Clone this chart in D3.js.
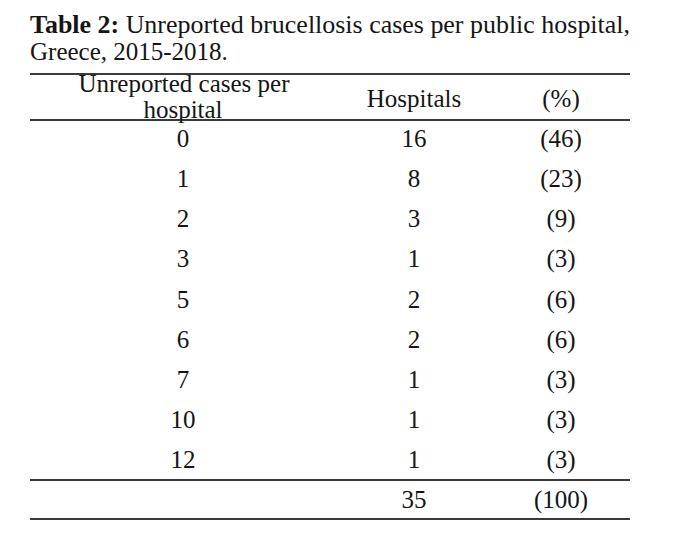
<!DOCTYPE html>
<html>
<head>
<meta charset="utf-8">
<script src="https://cdnjs.cloudflare.com/ajax/libs/d3/7.8.5/d3.min.js"></script>
<style>
  html, body { margin: 0; padding: 0; background: #fff; }
  svg text { font-family: "Liberation Serif", "Times New Roman", serif; fill: #151515; }
</style>
</head>
<body>
<div id="chart"></div>
<script>
// table content
const casesPerHospital = ["0", "1", "2", "3", "5", "6", "7", "10", "12"];
const hospitals = [16, 8, 3, 1, 2, 2, 1, 1, 1];
const percents = [46, 23, 9, 3, 6, 6, 3, 3, 3];
const totalHospitals = 35;
const totalPercent = 100;
const headers = [["Unreported cases per", "hospital"], ["Hospitals"], ["(%)"]];

const width = 684, height = 543;
const left = 30, right = 630;
const fs = 25;

const svg = d3.select('#chart')
    .append('svg')
    .attr('width', width)
    .attr('height', height);

// title, first line justified across the table width
const t1 = svg.append('text')
    .attr('x', left)
    .attr('y', 33)
    .attr('font-size', fs)
    .attr('textLength', right - left)
    .attr('lengthAdjust', 'spacingAndGlyphs');
t1.append('tspan').attr('font-weight', 'bold').text('Table 2:');
t1.append('tspan').text(' Unreported brucellosis cases per public hospital,');

svg.append('text')
    .attr('x', left)
    .attr('y', 60)
    .attr('font-size', fs)
    .text('Greece, 2015-2018.');

// column positions
const colX = d3.scaleOrdinal()
    .domain([0, 1, 2])
    .range([183, 414, 561]);

// row baselines
const rowY = d3.scalePoint()
    .domain(d3.range(casesPerHospital.length))
    .range([147, 468]);

const rules = [74, 120, 480, 519];
svg.append('g')
    .selectAll('line')
    .data(rules)
    .enter().append('line')
    .attr('x1', left)
    .attr('x2', right)
    .attr('y1', d => d)
    .attr('y2', d => d)
    .attr('stroke', '#3a3a3a')
    .attr('stroke-width', 1.8);

// header
const head = svg.append('g').attr('font-size', fs).attr('text-anchor', 'middle');
head.append('text').attr('x', colX(0) + 1).attr('y', 92).text(headers[0][0]);
head.append('text').attr('x', colX(0)).attr('y', 118).text(headers[0][1]);
head.append('text').attr('x', colX(1)).attr('y', 107).text(headers[1][0]);
head.append('text').attr('x', colX(2)).attr('y', 107).text(headers[2][0]);

// body rows
const rows = svg.append('g')
    .attr('font-size', fs)
    .attr('text-anchor', 'middle')
    .selectAll('g')
    .data(casesPerHospital.map((c, i) => ({ c, h: hospitals[i], p: percents[i], i })))
    .enter().append('g')
    .attr('transform', d => `translate(0,${rowY(d.i)})`);

rows.append('text').attr('x', colX(0)).text(d => d.c);
rows.append('text').attr('x', colX(1)).text(d => d.h);
rows.append('text').attr('x', colX(2)).text(d => `(${d.p})`);

// total
const tot = svg.append('g').attr('font-size', fs).attr('text-anchor', 'middle');
tot.append('text').attr('x', colX(1)).attr('y', 508).text(totalHospitals);
tot.append('text').attr('x', colX(2)).attr('y', 508).text(`(${totalPercent})`);
</script>
</body>
</html>
